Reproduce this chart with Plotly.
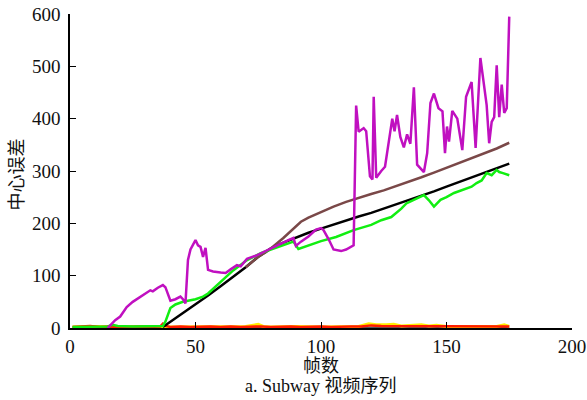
import plotly.graph_objects as go

# ---- data ----
black_f = [37, 40, 45, 50, 55, 60, 65, 70, 75, 80, 85, 90, 95, 100, 105, 110, 115, 120, 125,
           130, 135, 140, 145, 150, 155, 160, 165, 170, 175]
black_v = [2, 12, 28, 44, 62, 80, 98, 116, 136, 152, 163, 173, 182, 190, 198, 206, 213, 220, 228,
           236, 244, 252, 261, 270, 279, 288, 297, 305, 314]

brown_f = [70, 75, 78, 80, 85, 90, 92, 95, 100, 105, 110, 115, 120, 125, 130, 135, 140, 145,
           150, 155, 160, 165, 170, 175]
brown_v = [116, 136, 145, 152, 172, 195, 203, 211, 222, 232, 241, 249, 256, 263, 271, 279, 288,
           297, 306, 315, 325, 334, 343, 354]

green_f = [1, 5, 10, 15, 17, 19, 25, 30, 35, 37, 38, 40, 42, 45, 50, 53, 55, 60, 65, 70, 76, 80,
           85, 89, 91, 95, 100, 106, 113, 120, 124, 128, 132, 134, 137, 140, 141, 143, 145, 147.6,
           150, 153, 157, 160, 162, 164, 166, 168, 170, 171, 172.5, 175]
green_v = [2, 2, 2, 3, 6, 4, 3, 3, 3, 4, 12, 38, 45, 50, 55, 60, 66, 88, 110, 128, 143, 150,
           158, 165, 151, 158, 166, 174, 187, 197, 206, 212, 228, 238, 245, 251, 254, 244, 232, 245,
           250, 258, 264, 270, 277, 282, 296, 292, 302, 298, 296, 292]

mag_f = [15, 18, 20, 22.6, 25, 28, 30.5, 32, 33, 35, 37, 38, 40, 42, 44, 45, 46, 47, 48, 50, 51,
         52, 53, 54, 55, 57, 60, 62, 64, 66.5, 68, 70.5, 74, 77, 80, 84, 87, 89, 90, 92, 95, 98,
         100, 101, 103, 105, 108, 110, 113, 114, 115, 117, 118, 119.5, 120.5, 121, 122, 124,
         125.5, 128.4, 129.3, 130.3, 131.6, 133, 134.3, 135.6, 137, 138.3, 141, 142.3, 143.6,
         145, 146.8, 148.4, 149.4, 150.2, 151, 152.3, 154.3, 156.3, 157.8, 160, 161.6, 163.5,
         166, 167, 168, 169, 170, 171, 172, 173, 174, 175]
mag_v = [0, 15, 22, 40, 50, 60, 67, 72, 70, 77, 82, 78, 52, 55, 60, 55, 47, 130, 150, 168, 158,
         155, 136, 153, 111, 108, 106, 105, 112, 120, 118, 132, 138, 145, 152, 162, 168, 172, 157,
         165, 175, 188, 191, 187, 170, 150, 147, 150, 158, 425, 375, 382, 376, 290, 284, 442, 287,
         300, 308, 400, 376, 407, 365, 345, 370, 352, 460, 312, 298, 334, 430, 448, 420, 414, 334,
         385, 356, 415, 400, 340, 442, 470, 344, 516, 426, 353, 394, 403, 502, 403, 465, 411, 420,
         595]

red_f = [1, 4, 8, 12, 16, 20, 24, 28, 32, 36, 37, 38, 40, 44, 48, 52, 56, 60, 64, 68, 72, 76,
         80, 84, 88, 92, 96, 100, 104, 108, 112, 116, 120, 124, 128, 132, 136, 140, 144, 148, 152,
         156, 160, 164, 168, 172, 175]
red_v = [2, 3, 4, 2, 3, 2, 3, 3, 2, 3, 8, 4, 2, 3, 2, 3, 3, 2, 3, 2, 3, 3, 2, 3, 3, 2, 3, 3, 2,
         3, 3, 3, 5, 4, 4, 3, 3, 4, 3, 3, 3, 3, 3, 3, 3, 3, 3]

yel_f = [1, 10, 20, 30, 37, 40, 50, 60, 70, 75, 77, 80, 90, 100, 110, 115, 119, 122, 126, 129,
         132, 136, 140, 143, 146, 150, 155, 160, 165, 170, 173, 175]
yel_v = [2, 3, 2, 3, 3, 2, 2, 2, 3, 7, 3, 2, 3, 2, 3, 3, 8, 6, 6, 7, 4, 5, 6, 4, 5, 3, 3, 3, 3, 3,
         6, 3]

gray_f = [1, 175]
gray_v = [0.6, 0.6]

x_ticks = [0, 50, 100, 150, 200]
y_ticks = [0, 100, 200, 300, 400, 500, 600]

SERIF = "Liberation Serif, Times New Roman, serif"
CJK = "Liberation Serif, Noto Sans CJK SC, serif"

fig = go.Figure()
fig.add_trace(go.Scatter(x=gray_f, y=gray_v, mode="lines", line=dict(color="#555555", width=2.5)))
fig.add_trace(go.Scatter(x=yel_f, y=yel_v, mode="lines", line=dict(color="#ffee00", width=3)))
fig.add_trace(go.Scatter(x=red_f, y=red_v, mode="lines", line=dict(color="#ff1a00", width=2.5)))
fig.add_trace(go.Scatter(x=black_f, y=black_v, mode="lines", line=dict(color="#000000", width=2.5)))
fig.add_trace(go.Scatter(x=brown_f, y=brown_v, mode="lines", line=dict(color="#7a4848", width=2.5)))
fig.add_trace(go.Scatter(x=green_f, y=green_v, mode="lines", line=dict(color="#11ee11", width=2.5)))
fig.add_trace(go.Scatter(x=mag_f, y=mag_v, mode="lines", line=dict(color="#c010c0", width=2.5)))

fig.update_layout(
    width=587, height=400,
    margin=dict(l=70, r=15, t=14, b=72),
    paper_bgcolor="white", plot_bgcolor="white",
    showlegend=False,
    font=dict(family=SERIF, size=18, color="#111111"),
    xaxis=dict(range=[0, 200], tickvals=x_ticks, ticks="inside", ticklen=6, tickwidth=1,
               tickcolor="black", showline=True, linecolor="black", linewidth=1.5,
               showgrid=False, zeroline=False, tickfont=dict(family=SERIF, size=19),
               ticklabelstandoff=0, automargin=False),
    yaxis=dict(range=[0, 600], tickvals=y_ticks, ticks="inside", ticklen=6, tickwidth=1,
               tickcolor="black", showline=True, linecolor="black", linewidth=1.5,
               showgrid=False, zeroline=False, tickfont=dict(family=SERIF, size=19),
               ticklabelstandoff=4, automargin=False),
    annotations=[
        dict(text="帧数", xref="paper", yref="paper", x=0.5, y=-0.113, yshift=-3,
             xanchor="center", yanchor="middle", showarrow=False, font=dict(family=CJK, size=18)),
        dict(text="a. Subway 视频序列", xref="paper", yref="paper", x=0.5, y=-0.185,
             xanchor="center", yanchor="middle", showarrow=False, font=dict(family=CJK, size=18)),
        dict(text="中心误差", xref="paper", yref="paper", x=-0.105, y=0.49, xanchor="center",
             yanchor="middle", textangle=-90, showarrow=False, font=dict(family=CJK, size=18)),
    ],
)

fig.write_html("out.html")
